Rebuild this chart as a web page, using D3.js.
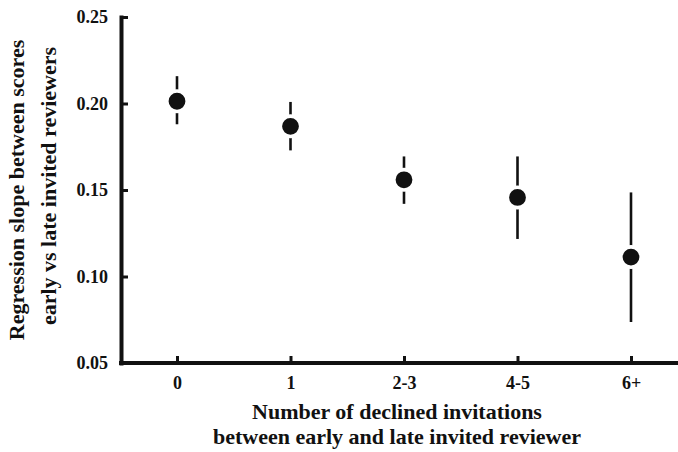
<!DOCTYPE html>
<html>
<head>
<meta charset="utf-8">
<script src="https://cdn.jsdelivr.net/npm/d3@7"></script>
<style>
  html, body { margin: 0; padding: 0; background: #fff; }
  svg { display: block; }
  text { font-family: 'Liberation Serif', 'Times New Roman', serif; font-weight: bold; fill: #111; }
</style>
</head>
<body>
<div id="chart"></div>
<script>
const CATEGORIES = ['0', '1', '2-3', '4-5', '6+']
const SLOPE = [0.2013, 0.1868, 0.1559, 0.1457, 0.1112]
const CI_LOW = [0.1880, 0.1729, 0.1420, 0.1217, 0.0737]
const CI_HIGH = [0.2158, 0.2009, 0.1694, 0.1694, 0.1486]
const Y_TICKS = [0.05, 0.10, 0.15, 0.20, 0.25]

const W = 678, H = 452
const MARGIN = { top: 17, right: 0, bottom: 89, left: 121 }
const INK = '#111'

const svg = d3.select('#chart').append('svg')
  .attr('width', W)
  .attr('height', H)

const x = d3.scalePoint()
  .domain(CATEGORIES)
  .range([177, 631])

const y = d3.scaleLinear()
  .domain([0.05, 0.25])
  .range([H - MARGIN.bottom, MARGIN.top])

// x axis, inward ticks; axis line runs to the right edge
svg.append('g')
  .attr('transform', `translate(0,${H - MARGIN.bottom})`)
  .call(d3.axisBottom(x).tickSize(-7).tickSizeOuter(0).tickPadding(13))
  .call(g => g.select('.domain')
    .attr('d', `M${MARGIN.left},0H${W}`)
    .attr('stroke', INK).attr('stroke-width', 4).attr('stroke-linecap', 'square'))
  .call(g => g.selectAll('.tick line').attr('stroke', INK).attr('stroke-width', 3))
  .call(g => g.selectAll('.tick text')
    .attr('font-size', 18).attr('fill', INK)
    .attr('font-family', "'Liberation Serif', serif"))

// y axis, inward ticks
svg.append('g')
  .attr('transform', `translate(${MARGIN.left},0)`)
  .call(d3.axisLeft(y).tickValues(Y_TICKS).tickFormat(d3.format('.2f'))
    .tickSize(-7).tickSizeOuter(0).tickPadding(13))
  .call(g => g.select('.domain')
    .attr('stroke', INK).attr('stroke-width', 4).attr('stroke-linecap', 'square'))
  .call(g => g.selectAll('.tick line').attr('stroke', INK).attr('stroke-width', 3))
  .call(g => g.selectAll('.tick text')
    .attr('font-size', 18).attr('fill', INK)
    .attr('font-family', "'Liberation Serif', serif"))

const rows = CATEGORIES.map((c, i) => ({ c, v: SLOPE[i], lo: CI_LOW[i], hi: CI_HIGH[i] }))

const plot = svg.append('g')

plot.selectAll('line.err')
  .data(rows)
  .join('line')
  .attr('class', 'err')
  .attr('x1', d => x(d.c)).attr('x2', d => x(d.c))
  .attr('y1', d => y(d.lo)).attr('y2', d => y(d.hi))
  .attr('stroke', INK)
  .attr('stroke-width', 2.6)

plot.selectAll('circle.pt')
  .data(rows)
  .join('circle')
  .attr('class', 'pt')
  .attr('cx', d => x(d.c))
  .attr('cy', d => y(d.v))
  .attr('r', 10.2)
  .attr('fill', INK)
  .attr('stroke', '#fff')
  .attr('stroke-width', 3.6)

// axis titles
const xTitle = svg.append('text')
  .attr('text-anchor', 'middle')
  .attr('font-size', 22)
xTitle.append('tspan').attr('x', 397).attr('y', 419).text('Number of declined invitations')
xTitle.append('tspan').attr('x', 397).attr('y', 444).text('between early and late invited reviewer')

const yTitle = svg.append('text')
  .attr('text-anchor', 'middle')
  .attr('font-size', 22)
  .attr('transform', 'translate(0,190) rotate(-90)')
yTitle.append('tspan').attr('x', 0).attr('y', 24).text('Regression slope between scores')
yTitle.append('tspan').attr('x', 4).attr('y', 56).text('early vs late invited reviewers')
</script>
</body>
</html>
